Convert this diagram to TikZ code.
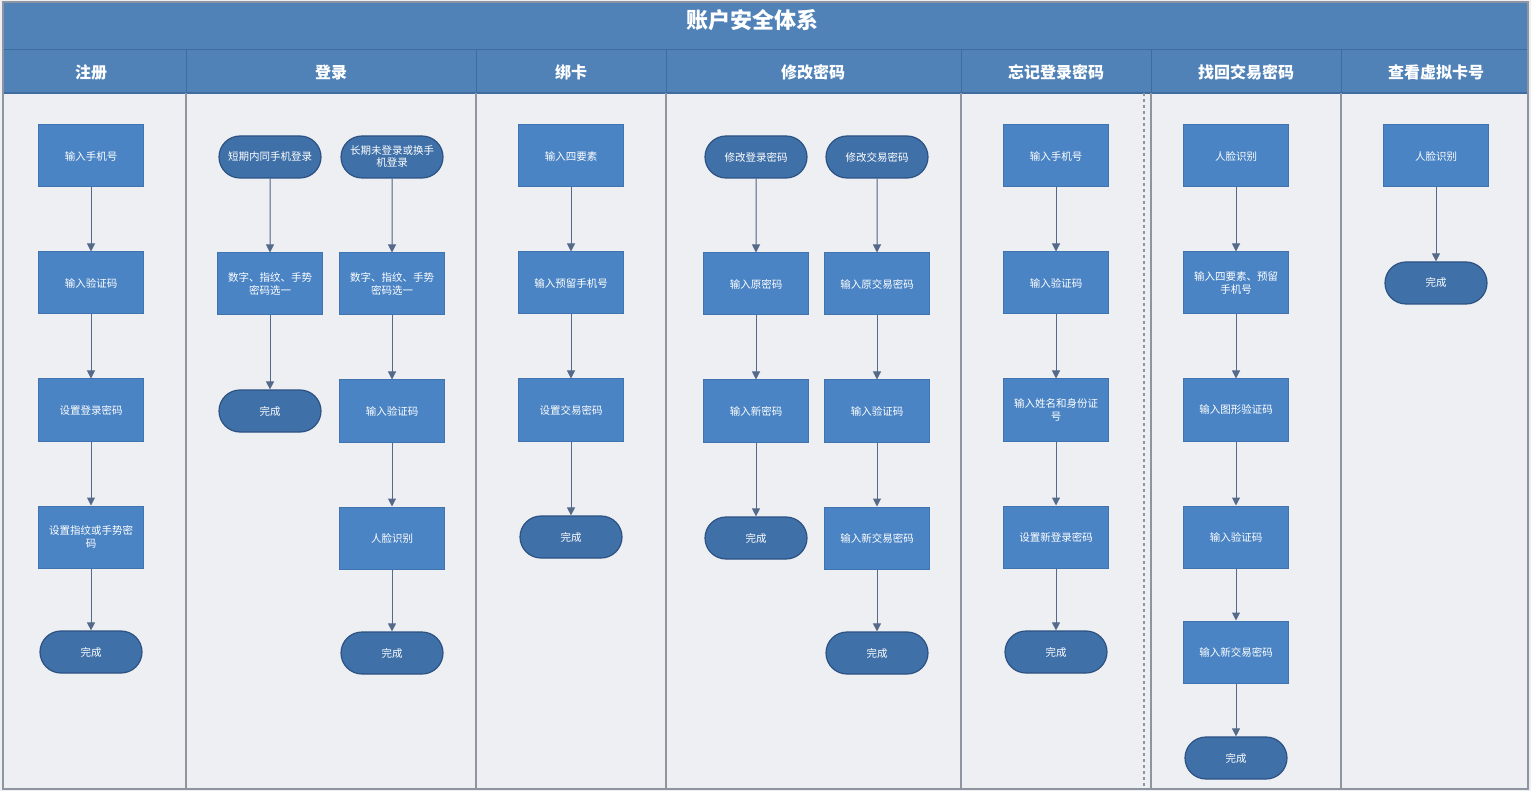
\documentclass[tikz,border=0pt]{standalone}
\usepackage{fontspec}
\setmainfont{Noto Sans CJK SC}
\usetikzlibrary{arrows.meta, positioning, shapes.misc}
\definecolor{PageGrey}{HTML}{EEEFF3}
\definecolor{BarBlue}{HTML}{5082B8}
\definecolor{BarEdge}{HTML}{3E6C9E}
\definecolor{BoxBlue}{HTML}{4A84C4}
\definecolor{BoxEdge}{HTML}{3F74B0}
\definecolor{CapBlue}{HTML}{3F70A8}
\definecolor{CapEdge}{HTML}{2C5283}
\definecolor{ArrowGrey}{HTML}{55698A}
\definecolor{LaneGrey}{HTML}{8E95A1}

\begin{document}
\begin{tikzpicture}[
    x=1pt, y=-1pt,
    node distance=127pt, on grid,
    stepbox/.style={rectangle, draw=BoxEdge, fill=BoxBlue, line width=1pt, minimum width=105pt, minimum height=62pt, inner sep=2pt, align=center, text=white, font=\fontsize{10.5}{13}\selectfont},
    endcap/.style={rounded rectangle, draw=CapEdge, fill=CapBlue, line width=1.2pt, minimum width=106pt, minimum height=42pt, inner sep=2pt, align=center, text=white, font=\fontsize{10.5}{12}\selectfont},
    lanehead/.style={text=white, font=\fontsize{16}{18}\selectfont\bfseries},
    arrow/.style={-{Triangle[width=8pt,length=8pt]}, line width=1pt, draw=ArrowGrey, fill=ArrowGrey},
    lane/.style={draw=LaneGrey, line width=1.2pt}
]
\useasboundingbox (0,0) rectangle (1531,791);

% Frame, title bar and lane heads
\fill[PageGrey] (0,0) rectangle (1531,791);
\fill[BarBlue] (3,2) rectangle (1528,93);
\draw[BarEdge, line width=1pt] (3,50) -- (1528,50);
\draw[BarEdge, line width=1.5pt] (3,93) -- (1528,93);
\node[text=white, font=\fontsize{22}{24}\selectfont\bfseries] (title) at (752,20) {账户安全体系};

\foreach \xl in {186,476,666,961,1151,1341}
  \draw[BarEdge, line width=1pt] (\xl,50) -- (\xl,93);
\foreach \xl in {186,476,666,961,1151,1341}
  \draw[lane] (\xl,93) -- (\xl,789);
\draw[lane, dashed] (1144,93) -- (1144,789);
\draw[lane] (3,2) rectangle (1528,789);

\node[lanehead] (h1) at (91,72) {注册};
\node[lanehead] (h2) at (331,72) {登录};
\node[lanehead] (h3) at (571,72) {绑卡};
\node[lanehead] (h4) at (813,72) {修改密码};
\node[lanehead] (h5) at (1056,72) {忘记登录密码};
\node[lanehead] (h6) at (1246,72) {找回交易密码};
\node[lanehead] (h7) at (1436,72) {查看虚拟卡号};

% 注册
\node[stepbox] (R1) at (91,156) {输入手机号};
\node[stepbox, below=of R1] (R2) {输入验证码};
\node[stepbox, below=of R2] (R3) {设置登录密码};
\node[stepbox, below=of R3] (R4) {设置指纹或手势密\\码};
\node[endcap, below=115pt of R4] (R5) {完成};

% 登录
\node[endcap] (L1) at (270,157) {短期内同手机登录};
\node[stepbox, below=of L1] (L2) {数字、指纹、手势\\密码选一};
\node[endcap, below=of L2] (L3) {完成};
\node[endcap] (M1) at (392,157) {长期未登录或换手\\机登录};
\node[stepbox, below=of M1] (M2) {数字、指纹、手势\\密码选一};
\node[stepbox, below=of M2] (M3) {输入验证码};
\node[stepbox, below=of M3] (M4) {人脸识别};
\node[endcap, below=115pt of M4] (M5) {完成};

% 绑卡
\node[stepbox] (B1) at (571,156) {输入四要素};
\node[stepbox, below=of B1] (B2) {输入预留手机号};
\node[stepbox, below=of B2] (B3) {设置交易密码};
\node[endcap, below=of B3] (B4) {完成};

% 修改密码
\node[endcap] (P1) at (756,157) {修改登录密码};
\node[stepbox, below=of P1] (P2) {输入原密码};
\node[stepbox, below=of P2] (P3) {输入新密码};
\node[endcap, below=of P3] (P4) {完成};
\node[endcap] (Q1) at (877,157) {修改交易密码};
\node[stepbox, below=of Q1] (Q2) {输入原交易密码};
\node[stepbox, below=of Q2] (Q3) {输入验证码};
\node[stepbox, below=of Q3] (Q4) {输入新交易密码};
\node[endcap, below=115pt of Q4] (Q5) {完成};

% 忘记登录密码
\node[stepbox] (F1) at (1056,156) {输入手机号};
\node[stepbox, below=of F1] (F2) {输入验证码};
\node[stepbox, below=of F2] (F3) {输入姓名和身份证\\号};
\node[stepbox, below=of F3] (F4) {设置新登录密码};
\node[endcap, below=115pt of F4] (F5) {完成};

% 找回交易密码
\node[stepbox] (T1) at (1236,156) {人脸识别};
\node[stepbox, below=of T1] (T2) {输入四要素、预留\\手机号};
\node[stepbox, below=of T2] (T3) {输入图形验证码};
\node[stepbox, below=of T3] (T4) {输入验证码};
\node[stepbox, below=115pt of T4] (T5) {输入新交易密码};
\node[endcap, below=106pt of T5] (T6) {完成};

% 查看虚拟卡号
\node[stepbox] (V1) at (1436,156) {人脸识别};
\node[endcap, below=of V1] (V2) {完成};

% Flow
\draw[arrow] (R1) -- (R2);
\draw[arrow] (R2) -- (R3);
\draw[arrow] (R3) -- (R4);
\draw[arrow] (R4) -- (R5);
\draw[arrow] (L1) -- (L2);
\draw[arrow] (L2) -- (L3);
\draw[arrow] (M1) -- (M2);
\draw[arrow] (M2) -- (M3);
\draw[arrow] (M3) -- (M4);
\draw[arrow] (M4) -- (M5);
\draw[arrow] (B1) -- (B2);
\draw[arrow] (B2) -- (B3);
\draw[arrow] (B3) -- (B4);
\draw[arrow] (P1) -- (P2);
\draw[arrow] (P2) -- (P3);
\draw[arrow] (P3) -- (P4);
\draw[arrow] (Q1) -- (Q2);
\draw[arrow] (Q2) -- (Q3);
\draw[arrow] (Q3) -- (Q4);
\draw[arrow] (Q4) -- (Q5);
\draw[arrow] (F1) -- (F2);
\draw[arrow] (F2) -- (F3);
\draw[arrow] (F3) -- (F4);
\draw[arrow] (F4) -- (F5);
\draw[arrow] (T1) -- (T2);
\draw[arrow] (T2) -- (T3);
\draw[arrow] (T3) -- (T4);
\draw[arrow] (T4) -- (T5);
\draw[arrow] (T5) -- (T6);
\draw[arrow] (V1) -- (V2);

\end{tikzpicture}
\end{document}
